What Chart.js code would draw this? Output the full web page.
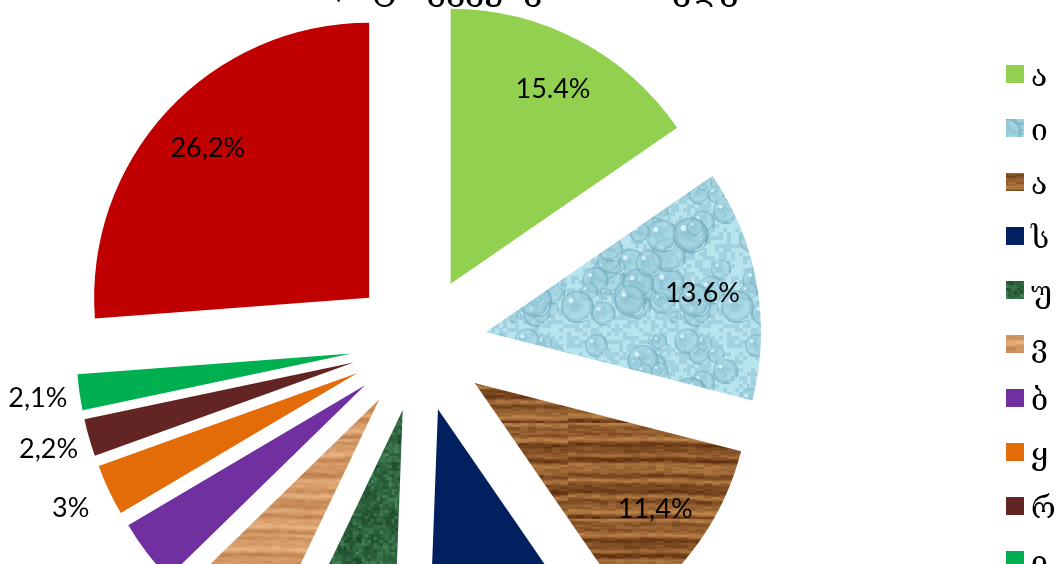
<!DOCTYPE html>
<html>
<head>
<meta charset="utf-8">
<script src="https://cdn.jsdelivr.net/npm/chart.js@4.4.0/dist/chart.umd.min.js"></script>
<style>
  html, body { margin: 0; padding: 0; background: #fff; overflow: hidden; }
  #wrap { position: relative; width: 1058px; height: 564px; }
</style>
</head>
<body>
<div id="wrap"><canvas id="pie" width="1058" height="564"></canvas></div>
<script>
// Share of each partner (percent), clockwise from 12 o'clock
const categories = ['აზერბაიჯანი', 'ირანი', 'აშშ', 'სომხეთი', 'უკრაინა', 'ვიეტნამი',
                    'ბულგარეთი', 'ყაზახეთი', 'რუსეთი', 'ინდოეთი', 'სხვა'];
const shares = [15.4, 13.6, 11.4, 10.2, 6.5, 5.6, 3.8, 3, 2.2, 2.1, 26.2];
const shareLabels = ['15.4%', '13,6%', '11,4%', '10,2%', '6,5%', '5,6%', '3,8%', '3%', '2,2%', '2,1%', '26,2%'];
const chartTitle = 'იმპორტი ქვეყნების მიხედვით';

const EXPLODE = 68;   // how far every slice is pulled out from the centre
const RADIUS = 275;

// ---------- textures ----------
function hash(x, y) {
  const s = Math.sin(x * 12.9898 + y * 78.233) * 43758.5453;
  return s - Math.floor(s);
}
function makeCanvas(w, h) {
  const c = document.createElement('canvas');
  c.width = w; c.height = h;
  return c;
}
function woodTexture(dark, light, w, h, seed) {
  const c = makeCanvas(w, h);
  const g = c.getContext('2d');
  const img = g.createImageData(w, h);
  for (let y = 0; y < h; y++) {
    for (let x = 0; x < w; x++) {
      const yy = y + 1.0 * Math.sin(x / 53 + seed) + 0.6 * Math.sin(x / 17 + seed * 2);
      let t = 0.5 + 0.22 * Math.sin(yy / 2.3 + seed) + 0.16 * Math.sin(yy / 1.3 + 1.3 * seed)
                  + 0.14 * Math.sin(yy / 6.1);
      t += (hash(Math.floor(x / 8), Math.floor(y / 2) + seed) - 0.5) * 0.3;
      t = Math.max(0, Math.min(1, t));
      const i = (y * w + x) * 4;
      img.data[i]     = dark[0] + (light[0] - dark[0]) * t;
      img.data[i + 1] = dark[1] + (light[1] - dark[1]) * t;
      img.data[i + 2] = dark[2] + (light[2] - dark[2]) * t;
      img.data[i + 3] = 255;
    }
  }
  g.putImageData(img, 0, 0);
  return c;
}
function marbleTexture(w, h) {
  const c = makeCanvas(w, h);
  const g = c.getContext('2d');
  const img = g.createImageData(w, h);
  for (let y = 0; y < h; y++) {
    for (let x = 0; x < w; x++) {
      const v = hash(Math.floor(x / 3), Math.floor(y / 3));
      const v2 = hash(Math.floor(x / 9) + 7, Math.floor(y / 9) + 3);
      let t = 0.22 + 0.35 * v * v + 0.22 * v2;
      t = Math.min(1, t);
      const i = (y * w + x) * 4;
      img.data[i]     = 12 + 80 * t;
      img.data[i + 1] = 52 + 110 * t;
      img.data[i + 2] = 26 + 85 * t;
      img.data[i + 3] = 255;
    }
  }
  g.putImageData(img, 0, 0);
  return c;
}
function waterTexture(w, h) {
  const c = makeCanvas(w, h);
  const g = c.getContext('2d');
  g.fillStyle = '#b0dde8';
  g.fillRect(0, 0, w, h);
  // soft mottling
  for (let y = 0; y < h; y += 4) {
    for (let x = 0; x < w; x += 4) {
      const v = hash(x / 4 + 11, y / 4 + 5);
      g.fillStyle = v > 0.5 ? 'rgba(200,240,248,0.35)' : 'rgba(120,180,196,0.25)';
      g.fillRect(x, y, 4, 4);
    }
  }
  for (let i = 0; i < 60; i++) {
    const x = hash(i, 1.7) * w;
    const y = hash(2.3, i) * h;
    const r = 4 + hash(i, i + 0.5) * 14;
    for (let dx = -w; dx <= w; dx += w) {
      for (let dy = -h; dy <= h; dy += h) {
        const cx = x + dx, cy = y + dy;
        const grad = g.createRadialGradient(cx - r * 0.3, cy - r * 0.3, r * 0.1, cx, cy, r);
        grad.addColorStop(0, 'rgba(135,192,210,0.7)');
        grad.addColorStop(0.7, 'rgba(165,212,226,0.55)');
        grad.addColorStop(1, 'rgba(105,165,184,0.75)');
        g.fillStyle = grad;
        g.beginPath(); g.arc(cx, cy, r, 0, Math.PI * 2); g.fill();
        g.strokeStyle = 'rgba(215,245,250,0.8)';
        g.lineWidth = 1.2;
        g.beginPath(); g.arc(cx + r * 0.25, cy + r * 0.3, r * 0.55, 0.2, 1.6); g.stroke();
        g.fillStyle = 'rgba(230,250,255,0.8)';
        g.beginPath(); g.arc(cx - r * 0.4, cy - r * 0.4, Math.max(1, r * 0.16), 0, Math.PI * 2); g.fill();
      }
    }
  }
  return c;
}

const ctx = document.getElementById('pie').getContext('2d');
const fills = [
  '#92D050',
  ctx.createPattern(waterTexture(160, 160), 'repeat'),
  ctx.createPattern(woodTexture([92, 46, 14], [190, 132, 74], 256, 96, 1.0), 'repeat'),
  '#002060',
  ctx.createPattern(marbleTexture(120, 120), 'repeat'),
  ctx.createPattern(woodTexture([186, 124, 74], [236, 182, 132], 256, 96, 2.4), 'repeat'),
  '#7030A0',
  '#E36C09',
  '#632523',
  '#00B050',
  '#C00000'
];

// Slices are all pulled out by the same distance along their mid angle
const explodedSlices = {
  id: 'explodedSlices',
  beforeDatasetDraw(chart, args) {
    const c = chart.ctx;
    args.meta.data.forEach(arc => {
      const mid = (arc.startAngle + arc.endAngle) / 2;
      c.save();
      c.translate(Math.cos(mid) * EXPLODE, Math.sin(mid) * EXPLODE);
      arc.draw(c);
      c.restore();
    });
    return false;
  },
  afterDatasetsDraw(chart) {
    const c = chart.ctx;
    const meta = chart.getDatasetMeta(0);
    c.save();
    c.font = '27px Lato, "DejaVu Sans", sans-serif';
    c.fillStyle = '#000';
    c.textBaseline = 'middle';
    c.textAlign = 'center';
    meta.data.forEach((arc, i) => {
      const mid = (arc.startAngle + arc.endAngle) / 2;
      const dist = shares[i] >= 4 ? EXPLODE + arc.outerRadius * 0.8
                                  : EXPLODE + arc.outerRadius + 42;
      c.fillText(shareLabels[i], arc.x + Math.cos(mid) * dist, arc.y + Math.sin(mid) * dist);
    });
    c.restore();
  },
  afterDraw(chart) {
    const c = chart.ctx;
    c.save();
    // title
    c.font = '34px "DejaVu Serif", serif';
    c.fillStyle = '#000';
    c.textAlign = 'center';
    c.textBaseline = 'alphabetic';
    c.fillText(chartTitle, 522, -1);
    // legend
    c.font = '30px "DejaVu Serif", serif';
    c.letterSpacing = '14px';
    c.textAlign = 'left';
    categories.forEach((name, i) => {
      const top = 65 + i * 54;
      c.fillStyle = fills[i];
      c.fillRect(1006, top, 18, 18);
      c.fillStyle = '#000';
      c.fillText(name, 1031, top + 21);
    });
    c.restore();
  }
};

new Chart(ctx, {
  type: 'pie',
  data: {
    labels: categories,
    datasets: [{
      data: shares,
      backgroundColor: fills,
      borderWidth: 0,
      hoverOffset: 0
    }]
  },
  options: {
    responsive: false,
    animation: false,
    events: [],
    radius: RADIUS,
    layout: { padding: { left: 0, right: 220, top: 124, bottom: 0 } },
    plugins: {
      legend: { display: false },
      title: { display: false },
      tooltip: { enabled: false }
    }
  },
  plugins: [explodedSlices]
});
</script>
</body>
</html>
